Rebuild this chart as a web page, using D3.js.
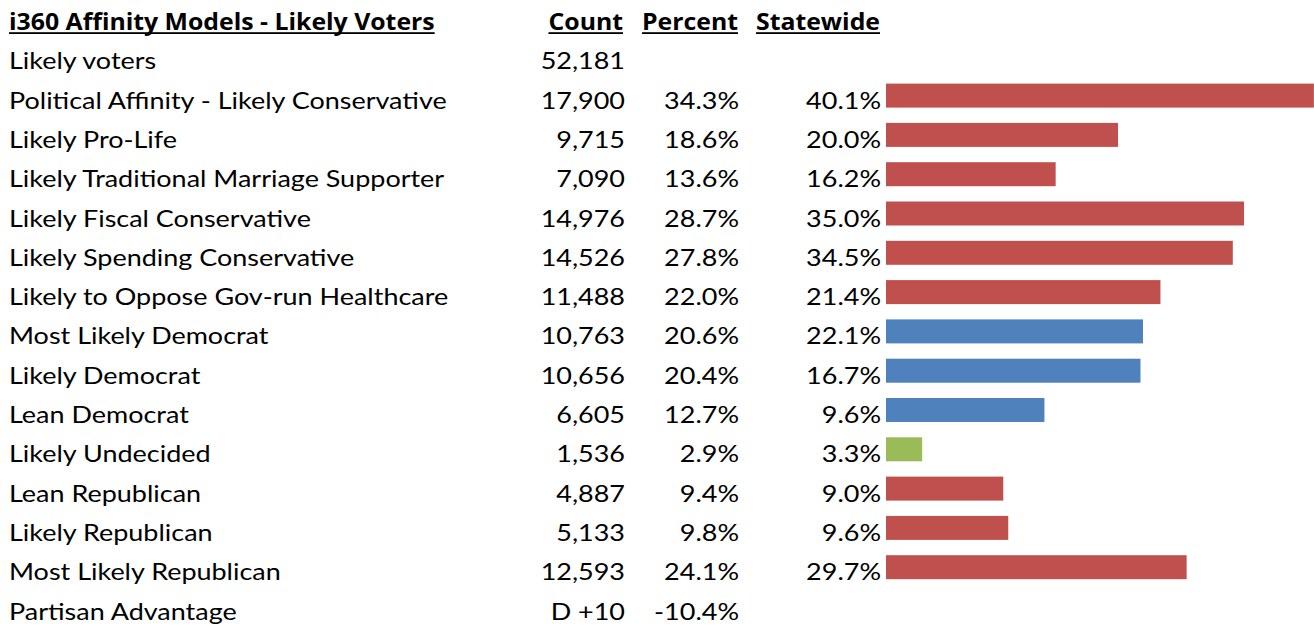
<!DOCTYPE html>
<html><head><meta charset="utf-8">
<script src="https://cdn.jsdelivr.net/npm/d3@7"></script>
<style>
html,body{margin:0;padding:0;background:#fff;}
svg{display:block;}
text{font-family:Lato,"Open Sans",sans-serif;fill:#000;}
text.b{font-family:"Open Sans","Noto Sans",sans-serif;font-weight:bold;font-style:normal;}
</style></head>
<body><svg id="c" width="1314" height="627"></svg>
<script>
const title = "i360 Affinity Models - Likely Voters";
const headers = ["Count", "Percent", "Statewide"];
const labels = ["Likely voters","Political Affinity - Likely Conservative","Likely Pro-Life","Likely Traditional Marriage Supporter","Likely Fiscal Conservative","Likely Spending Conservative","Likely to Oppose Gov-run Healthcare","Most Likely Democrat","Likely Democrat","Lean Democrat","Likely Undecided","Lean Republican","Likely Republican","Most Likely Republican","Partisan Advantage"];
const counts = ["52,181","17,900","9,715","7,090","14,976","14,526","11,488","10,763","10,656","6,605","1,536","4,887","5,133","12,593","D +10"];
const percents = [null,34.3,18.6,13.6,28.7,27.8,22.0,20.6,20.4,12.7,2.9,9.4,9.8,24.1,-10.4];
const statewide = [null,40.1,20.0,16.2,35.0,34.5,21.4,22.1,16.7,9.6,3.3,9.0,9.6,29.7,null];
const groups = [null,"R","R","R","R","R","R","D","D","D","U","R","R","R",null];

const svg = d3.select("#c");
const color = d3.scaleOrdinal().domain(["R","D","U"]).range(["#C0504D","#4F81BD","#9BBB59"]);
const pitch = 39.3;
const y = d3.scaleBand().domain(labels).range([41.3, 41.3 + pitch*labels.length]).padding(0);
const x = d3.scaleLinear().domain([0, 35]).range([886, 886 + 35*12.475]);
const fmtPct = d => d == null ? "" : d.toFixed(1) + "%";
const baseline = l => y(l) + 28;

// bars
svg.append("g").selectAll("rect")
  .data(labels.map((l,i)=>({l, p:percents[i], g:groups[i]})).filter(d=>d.g))
  .join("rect")
  .attr("x", x(0))
  .attr("y", d => baseline(d.l) - 25)
  .attr("width", d => x(d.p) - x(0))
  .attr("height", 24)
  .attr("fill", d => color(d.g));

const textG = svg.append("g").attr("font-size", 24);
// horizontal compression to mimic the narrow original font
let probe = textG.append("text").text(labels[1]);
const sx = 438 / probe.node().getComputedTextLength();
probe.remove();
probe = textG.append("text").attr("class","b").attr("font-size",23).text(title);
const sxb = 426 / probe.node().getComputedTextLength();
probe.remove();

function addText(str, xPos, yPos, anchor, bold){
  const s = bold ? sxb : sx;
  const t = textG.append("text")
    .attr("class", bold ? "b" : null)
    .attr("font-size", bold ? 23 : null)
    .attr("transform", `translate(${xPos},${yPos}) scale(${s},1)`)
    .attr("text-anchor", anchor)
    .text(str);
  if (bold) {
    const w = t.node().getComputedTextLength() * s;
    const x0 = anchor === "end" ? xPos - w : xPos;
    textG.append("rect").attr("x", x0).attr("y", yPos + 2.2).attr("width", w).attr("height", 1.8).attr("fill", "#000");
  }
  return t;
}
const hb = 30;
addText(title, 9, hb, "start", true);
const headerX = [623, 738, 880];
headers.forEach((h,i) => addText(h, headerX[i], hb, "end", true));

labels.forEach((l,i) => {
  const b = baseline(l);
  addText(l, 9, b, "start");
  addText(counts[i], 625, b, "end");
  if (percents[i] != null) addText(fmtPct(percents[i]), 739, b, "end");
  if (statewide[i] != null) addText(fmtPct(statewide[i]), 881, b, "end");
});
</script></body></html>
